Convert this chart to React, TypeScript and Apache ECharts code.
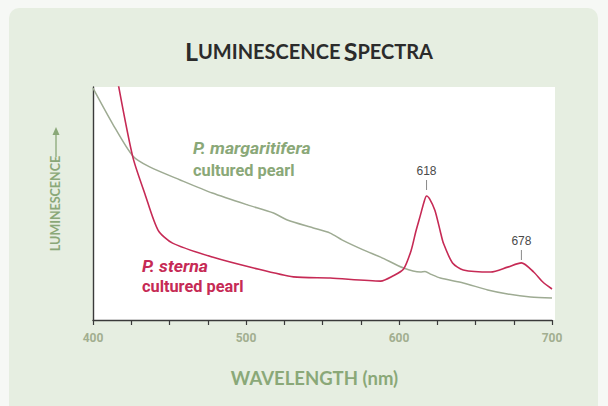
import React, { useEffect, useRef } from "react";
import * as echarts from "echarts";

// Wavelength (nm) and relative luminescence
const margWavelengths = [400, 413, 426, 437, 457, 478, 501, 518, 527, 544, 555, 563, 577, 588, 603, 614, 617, 621, 627, 642, 658, 671, 686, 700];
const margValues = [99.5, 84, 70.4, 65.7, 60.1, 54.5, 49.4, 45.9, 42.9, 39.5, 37.3, 34.3, 30.0, 27.0, 22.3, 20.6, 20.8, 19.6, 18.0, 15.9, 12.9, 11.2, 9.9, 9.4];

const sternaWavelengths = [416, 426, 434, 442.5, 452, 478, 505, 531, 555, 588, 596, 603, 608, 611, 614, 616.5, 618, 620, 623.5, 627, 629, 635, 642, 660, 671, 680, 688, 694, 700];
const sternaValues = [103, 70, 54, 38.6, 33.0, 27.0, 22.3, 18.5, 18.0, 16.7, 18.9, 21.9, 30.0, 38, 45, 51, 53.2, 52, 47, 38, 33, 24.5, 21.5, 20.6, 22.7, 24.5, 20.6, 16.3, 13.3];

const peakLabels = ["618", "678"];
const peakWavelengths = [618, 680];
const peakValues = [53.2, 24.5];
const xTickLabels = [400, 500, 600, 700];

const GREEN_TEXT = "#8aa878";
const GREEN_LINE = "#9eab93";
const RED = "#c62a55";

export default function App() {
  const ref = useRef<HTMLDivElement>(null);
  useEffect(() => {
    document.body.style.margin = "0";
    if (!ref.current) return;
    const chart = echarts.init(ref.current, null, { renderer: "svg" });
    const zip = (xs: number[], ys: number[]) => xs.map((x, i) => [x, ys[i]]);
    const cond = "Roboto";
    const label = (x: number, y: number, text: string, fill: string, italic: boolean) => ({
      type: "text", x, y, scaleX: italic ? 1.04 : 0.96, scaleY: 1,
      style: { text, fontFamily: cond, fontStyle: italic ? "italic" : "normal", fontWeight: "bold", fontSize: 17, fill, verticalAlign: "middle" },
    });
    chart.setOption({
      animation: false,
      backgroundColor: "#f6f8f5",
      graphic: [
        { type: "rect", z: -20, shape: { x: 9, y: 8, width: 589, height: 410, r: 10 }, style: { fill: "#e6eee1" } },
        { type: "rect", z: -10, shape: { x: 93, y: 87, width: 462, height: 233 }, style: { fill: "#ffffff" } },
        {
          type: "text", x: 309, y: 51,
          style: {
            text: "{a|L}{b|UMINESCENCE} {a|S}{b|PECTRA}",
            align: "center", verticalAlign: "middle",
            rich: {
              a: { fontFamily: "Lato", fontWeight: "bold", fontSize: 25, fill: "#2b2b2b" },
              b: { fontFamily: "Lato", fontWeight: "bold", fontSize: 20, fill: "#2b2b2b" },
            },
          },
        },
        { type: "line", shape: { x1: 56, y1: 157, x2: 56, y2: 133 }, style: { stroke: GREEN_TEXT, lineWidth: 1.3 } },
        { type: "polygon", shape: { points: [[52.5, 135], [56, 127], [59.5, 135]] }, style: { fill: GREEN_TEXT } },
        label(193, 148, "P. margaritifera", GREEN_TEXT, true),
        label(193, 170, "cultured pearl", GREEN_TEXT, false),
        label(142, 266, "P. sterna", RED, true),
        label(142, 286, "cultured pearl", RED, false),
      ],
      grid: { left: 93, right: 56, top: 87, bottom: 86, show: false },
      xAxis: {
        type: "value", min: 400, max: 700, interval: 25,
        name: "WAVELENGTH (nm)", nameLocation: "middle", nameGap: 48,
        nameTextStyle: { fontFamily: "Lato", fontWeight: "bold", fontSize: 18.5, color: GREEN_TEXT, padding: [0, 16, 0, 0] },
        axisLine: { lineStyle: { color: "#3a3a3a", width: 1.4 } },
        axisTick: { length: 5, lineStyle: { color: "#3a3a3a", width: 1.2 } },
        axisLabel: {
          margin: 12, fontFamily: cond, fontWeight: "bold", fontSize: 12, color: "#a2ae90",
          formatter: (v: number) => (xTickLabels.includes(v) ? String(v) : ""),
          showMinLabel: true, showMaxLabel: true,
        },
        splitLine: { show: false },
      },
      yAxis: {
        type: "value", min: 0, max: 100,
        name: "LUMINESCENCE", nameLocation: "middle", nameGap: 31, nameRotate: 90,
        nameTextStyle: { fontFamily: "Lato", fontWeight: "bold", fontSize: 12.5, color: GREEN_TEXT },
        axisLine: { show: true, lineStyle: { color: "#3a3a3a", width: 1.4 } },
        axisTick: { show: false }, axisLabel: { show: false }, splitLine: { show: false },
      },
      series: [
        {
          type: "line", name: "P. margaritifera", data: zip(margWavelengths, margValues),
          showSymbol: false, smooth: 0.25,
          lineStyle: { color: GREEN_LINE, width: 1.5 },
        },
        {
          type: "line", name: "P. sterna", data: zip(sternaWavelengths, sternaValues),
          showSymbol: false, smooth: 0.25,
          lineStyle: { color: RED, width: 1.6 },
          markPoint: {
            symbol: "rect", symbolSize: [1, 10],
            itemStyle: { color: "#8a8a8a" },
            label: { show: true, position: "top", distance: 3, color: "#4a4a4a", fontFamily: "Liberation Sans", fontSize: 12 },
            data: peakLabels.map((name, i) => ({
              name, coord: [peakWavelengths[i], peakValues[i]],
              symbolOffset: [0, i === 0 ? -11 : -8],
              label: { formatter: name },
            })),
          },
        },
      ],
    });
    return () => chart.dispose();
  }, []);
  return <div ref={ref} style={{ width: 608, height: 406 }} />;
}
